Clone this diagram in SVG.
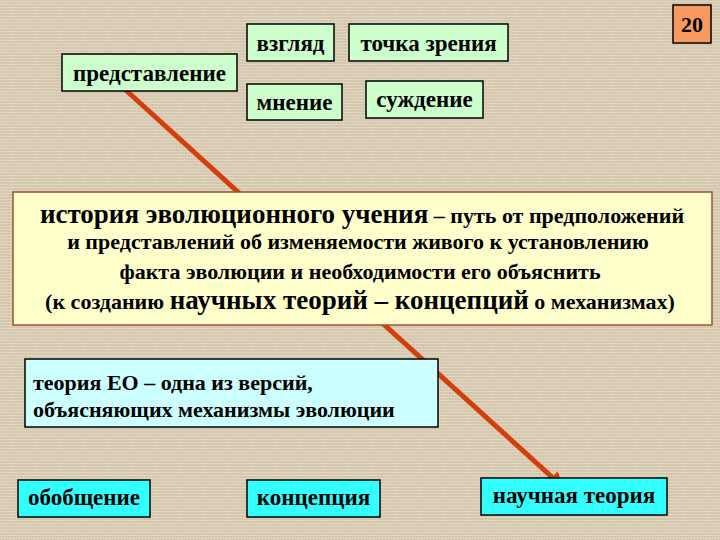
<svg xmlns="http://www.w3.org/2000/svg" width="720" height="540" viewBox="0 0 720 540" font-family="Liberation Serif">
<defs>
<pattern id="tex" width="6" height="6" patternUnits="userSpaceOnUse">
<rect width="6" height="6" fill="#d3c5aa"/>
<path d="M0 1.5H6M0 4.5H6" stroke="#e2d7c3" stroke-width="1"/>
<path d="M1.5 0V6M4.5 0V6" stroke="#ddd1bb" stroke-width="0.8"/>
</pattern>
</defs>
<rect width="720" height="540" fill="url(#tex)"/>
<g id="connectors">
<line x1="118" y1="83" x2="553" y2="478" stroke="#d43d0c" stroke-width="5"/>
<polygon points="564,488 546.8,483.1 557.6,471.3" fill="#d43d0c"/>
</g>
<g id="n-vzglyad"><rect fill="#ccffcc" stroke="#000" stroke-width="1.5" x="247" y="24" width="87" height="37"/><text font-family="Liberation Serif" font-size="23" font-weight="bold" text-anchor="middle" x="290.5" y="51">взгляд</text></g>
<g id="n-tochka"><rect fill="#ccffcc" stroke="#000" stroke-width="1.5" x="349" y="24" width="159" height="37"/><text font-family="Liberation Serif" font-size="23" font-weight="bold" text-anchor="middle" x="428.5" y="51">точка зрения</text></g>
<g id="n-predst"><rect fill="#ccffcc" stroke="#000" stroke-width="1.5" x="62" y="54" width="175" height="37"/><text font-family="Liberation Serif" font-size="23" font-weight="bold" text-anchor="middle" x="149.5" y="81">представление</text></g>
<g id="n-mnenie"><rect fill="#ccffcc" stroke="#000" stroke-width="1.5" x="247" y="84" width="95" height="36"/><text font-family="Liberation Serif" font-size="23" font-weight="bold" text-anchor="middle" x="294.5" y="110">мнение</text></g>
<g id="n-suzhd"><rect fill="#ccffcc" stroke="#000" stroke-width="1.5" x="366" y="81" width="117" height="37"/><text font-family="Liberation Serif" font-size="23" font-weight="bold" text-anchor="middle" x="424.5" y="107">суждение</text></g>
<g id="n-num"><rect x="673" y="5" width="38" height="38" fill="#f79a62" stroke="#000" stroke-width="1.5"/><text font-family="Liberation Serif" font-size="22" font-weight="bold" text-anchor="middle" x="692" y="32">20</text></g>
<g id="n-main">
<rect x="13" y="192" width="699" height="133" fill="#ffffcc" stroke="#a0522d" stroke-width="1.5"/>
<text font-family="Liberation Serif" font-weight="bold" text-anchor="middle" x="362" y="223"><tspan font-size="27">история эволюционного учения</tspan><tspan font-size="22"> – путь от предположений</tspan></text>
<text font-family="Liberation Serif" font-size="22" font-weight="bold" text-anchor="middle" x="358" y="249">и представлений об изменяемости живого к установлению</text>
<text font-family="Liberation Serif" font-size="22" font-weight="bold" text-anchor="middle" x="360" y="279">факта эволюции и необходимости его объяснить</text>
<text font-family="Liberation Serif" font-weight="bold" text-anchor="middle" x="360" y="309"><tspan font-size="22">(к созданию </tspan><tspan font-size="27">научных теорий – концепций</tspan><tspan font-size="22"> о механизмах)</tspan></text>
</g>
<g id="n-teoriya">
<rect fill="#ccffff" stroke="#000" stroke-width="1.5" x="25" y="359" width="413" height="68"/>
<text font-family="Liberation Serif" font-size="22" font-weight="bold" x="33" y="390">теория ЕО – одна из версий,</text>
<text font-family="Liberation Serif" font-size="22" font-weight="bold" x="33" y="417">объясняющих механизмы эволюции</text>
</g>
<g id="n-obob"><rect fill="#33ffff" stroke="#000" stroke-width="1.5" x="18" y="480" width="132" height="37"/><text font-family="Liberation Serif" font-size="23" font-weight="bold" text-anchor="middle" x="84" y="505">обобщение</text></g>
<g id="n-konc"><rect fill="#33ffff" stroke="#000" stroke-width="1.5" x="247" y="480" width="133" height="37"/><text font-family="Liberation Serif" font-size="23" font-weight="bold" text-anchor="middle" x="313.5" y="505">концепция</text></g>
<g id="n-nauch"><rect fill="#33ffff" stroke="#000" stroke-width="1.5" x="481" y="478" width="186" height="37"/><text font-family="Liberation Serif" font-size="23" font-weight="bold" text-anchor="middle" x="574" y="503">научная теория</text></g>
</svg>
